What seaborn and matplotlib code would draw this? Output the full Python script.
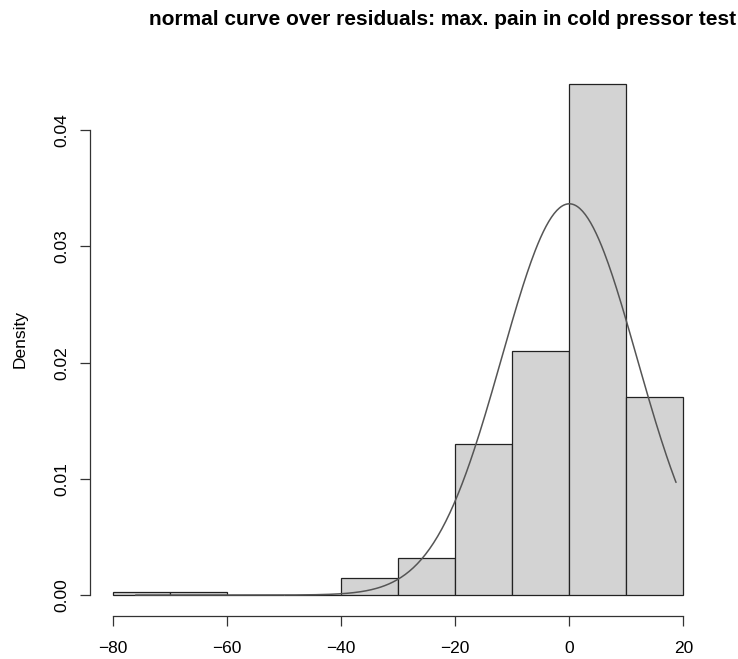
import numpy as np
import pandas as pd
import matplotlib
matplotlib.use('Agg')
import matplotlib.pyplot as plt
import seaborn as sns

# histogram of residuals (density per 10-unit bin)
bin_edges = [-80, -70, -60, -50, -40, -30, -20, -10, 0, 10, 20]
bin_density = [0.0003, 0.0003, 0.0, 0.0, 0.0015, 0.0032, 0.013, 0.021, 0.044, 0.017]

# normal curve laid over it
curve_mean = 0.0
curve_sd = 11.85
curve_from = -76.0
curve_to = 18.7

x_ticks = [-80, -60, -40, -20, 0, 20]
y_ticks = [0.00, 0.01, 0.02, 0.03, 0.04]
y_tick_labels = ['0.00', '0.01', '0.02', '0.03', '0.04']

title = 'normal curve over residuals: max. pain in cold pressor test'

sns.set_style('ticks')
plt.rcParams['font.family'] = ['Liberation Sans', 'DejaVu Sans']
plt.rcParams['text.color'] = 'black'
plt.rcParams['xtick.labelcolor'] = 'black'
plt.rcParams['ytick.labelcolor'] = 'black'
plt.rcParams['axes.labelcolor'] = 'black'

centers = [(a + b) / 2 for a, b in zip(bin_edges[:-1], bin_edges[1:])]
df = pd.DataFrame({'resid': centers, 'dens': bin_density})

xs = np.linspace(curve_from, curve_to, 400)
curve = pd.DataFrame({'x': xs,
                      'y': np.exp(-0.5 * ((xs - curve_mean) / curve_sd) ** 2) / (curve_sd * np.sqrt(2 * np.pi))})

fig = plt.figure(figsize=(7.38, 6.59), dpi=100)
ax = fig.add_axes([0.122, 0.066, 0.835, 0.838])

sns.histplot(data=df, x='resid', weights='dens', bins=bin_edges, stat='count',
             color='#d3d3d3', alpha=1, edgecolor='#222222', linewidth=0.9, ax=ax)
sns.lineplot(data=curve, x='x', y='y', color='#555555', linewidth=1.1, ax=ax)

ax.set_xlim(-84, 24)
ax.set_ylim(-0.00176, 0.04576)
ax.set_xticks(x_ticks)
ax.set_xticklabels([str(t).replace('-', '\u2212') for t in x_ticks], fontsize=12.5, color='black')
ax.set_yticks(y_ticks)
ax.set_yticklabels(y_tick_labels, fontsize=12.5, rotation=90, va='center', color='black')
ax.tick_params(length=7, width=0.9, color='#333333')
ax.tick_params(axis='x', pad=11)
ax.tick_params(axis='y', pad=8)
ax.set_xlabel('')
ax.set_ylabel('Density', fontsize=12.5, labelpad=19, color='black')

for side in ['top', 'right']:
    ax.spines[side].set_visible(False)
ax.spines['left'].set_bounds(0, 0.04)
ax.spines['bottom'].set_bounds(-80, 20)
for side in ['left', 'bottom']:
    ax.spines[side].set_linewidth(0.9)
    ax.spines[side].set_color('#333333')

fig.text(0.5996, 0.962, title, ha='center', va='baseline', fontsize=15,
         fontweight='bold', color='black')

fig.savefig('out.png', dpi=100)
